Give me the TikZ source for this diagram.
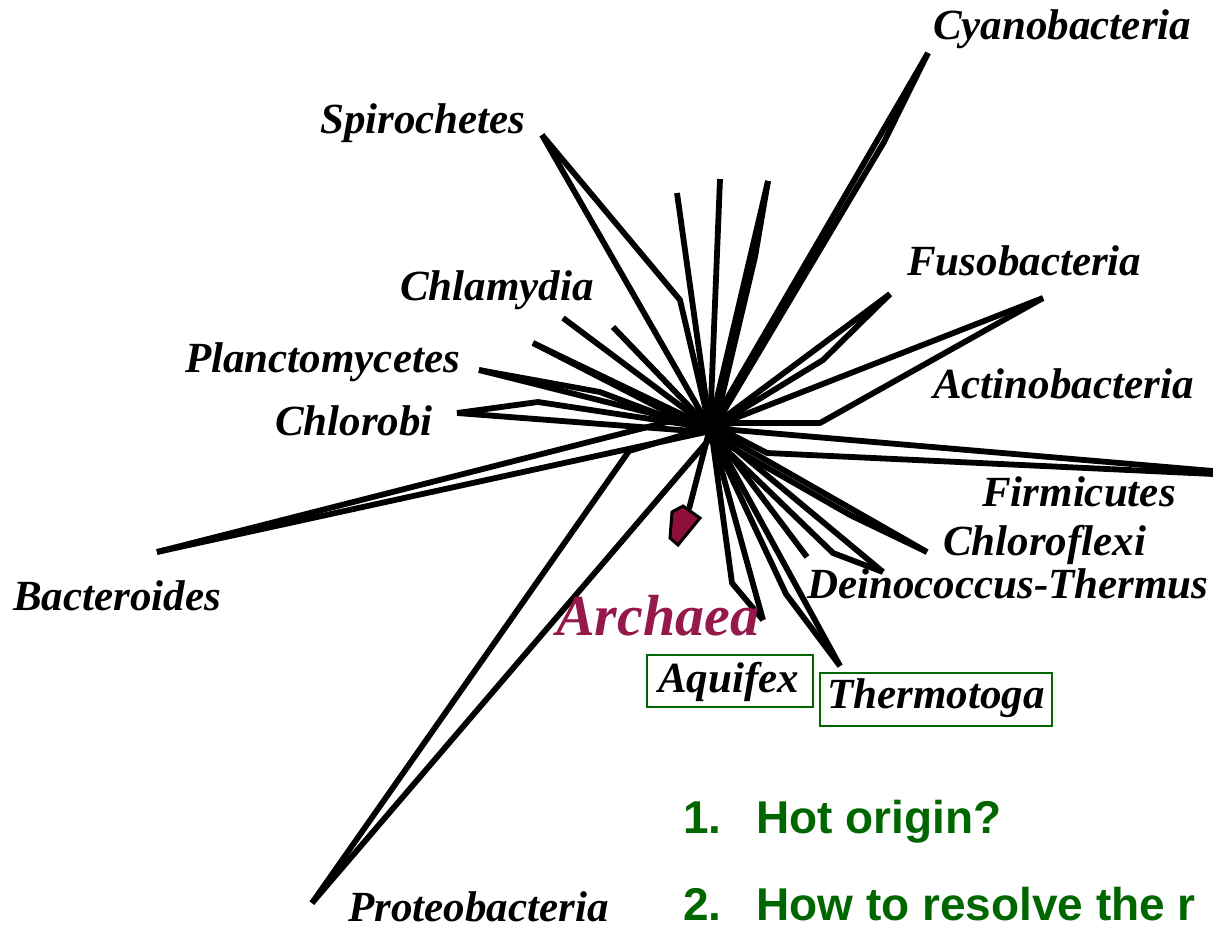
\documentclass[tikz,border=0pt]{standalone}
\usepackage{fontspec}
\setmainfont{Liberation Serif}
\newfontfamily\sansbold{Liberation Sans}
\definecolor{slidegreen}{RGB}{0,102,0}
\definecolor{archred}{RGB}{150,25,75}
\definecolor{archfill}{RGB}{140,15,60}
\begin{document}
\begin{tikzpicture}[x=1pt,y=-1pt,
  branch/.style={line width=5.8pt,line join=round,line cap=butt},
  taxon/.style={anchor=base west,inner sep=0pt,font=\fontsize{43}{46}\selectfont\bfseries\itshape},
  boxed/.style={draw=slidegreen,line width=1.8pt},
  question/.style={anchor=base west,inner sep=0pt,text=slidegreen,font=\sansbold\fontsize{46}{50}\selectfont\bfseries}]
\useasboundingbox (0,0) rectangle (1213,929);
% centre
\coordinate (C) at (710,428);
\coordinate (Ca) at (706,432);
\coordinate (Cb) at (715,426);
\coordinate (Cc) at (712,436);
% tips
\coordinate (tSp) at (542,135);
\coordinate (kSp) at (680,300);
\coordinate (tT1) at (677,193);
\coordinate (tT2) at (720,179);
\coordinate (tT3) at (768,181);
\coordinate (kT3) at (755,257);
\coordinate (tCy) at (928,53);
\coordinate (kCy) at (884,142);
\coordinate (tFu) at (890,294);
\coordinate (kFu) at (823,360);
\coordinate (tAc) at (1043,298);
\coordinate (kAc) at (820,423);
\coordinate (kAc2) at (735,423);
\coordinate (tFi) at (1213,471);
\coordinate (tFi2) at (1213,474);
\coordinate (kFi) at (767,453);
\coordinate (tCh) at (927,552);
\coordinate (kCh) at (850,515);
\coordinate (tDe) at (883,572);
\coordinate (kDe) at (833,553);
\coordinate (tSh) at (807,557);
\coordinate (tTh) at (840,666);
\coordinate (kTh) at (786,594);
\coordinate (tAq) at (763,620);
\coordinate (kAq) at (732,583);
\coordinate (tAr) at (689,509);
\coordinate (tCl1) at (563,318);
\coordinate (tCl2) at (613,327);
\coordinate (tPl1) at (533,343);
\coordinate (tPl2) at (479,370);
\coordinate (kPl2) at (600,392);
\coordinate (tCb) at (457,413);
\coordinate (kCb) at (538,402);
\coordinate (tBa) at (157,552);
\coordinate (kBa) at (683,418);
\coordinate (tPr) at (312,903);
\coordinate (kPr) at (629,451);
\coordinate (kPr2) at (700,430);
% branches
\draw[branch] (tSp) -- (kSp) -- (C);
\draw[branch] (tSp) -- (C);
\draw[branch] (tT1) -- (C);
\draw[branch] (tT2) -- (C);
\draw[branch] (tT3) -- (C);
\draw[branch] (tT3) -- (kT3) -- (Cb);
\draw[branch] (tCy) -- (C);
\draw[branch] (tCy) -- (kCy) -- (Cb);
\draw[branch] (tFu) -- (C);
\draw[branch] (tFu) -- (kFu) -- (Cb);
\draw[branch] (tAc) -- (C);
\draw[branch] (tAc) -- (kAc) -- (kAc2) -- (Cb);
\draw[branch] (C) -- (tFi);
\draw[branch] (Cb) -- (kFi) -- (tFi2);
\draw[branch] (C) -- (tCh);
\draw[branch] (Cc) -- (kCh) -- (tCh);
\draw[branch] (C) -- (tDe);
\draw[branch] (Cc) -- (kDe) -- (tDe);
\draw[branch] (C) -- (tSh);
\draw[branch] (C) -- (tTh);
\draw[branch] (Cc) -- (kTh) -- (tTh);
\draw[branch] (C) -- (tAq);
\draw[branch] (Cc) -- (kAq) -- (tAq);
\draw[branch] (C) -- (tAr);
\draw[branch] (tCl1) -- (C);
\draw[branch] (tCl2) -- (C);
\draw[branch] (tPl1) -- (C);
\draw[branch] (tPl1) -- (Ca);
\draw[branch] (tPl2) -- (C);
\draw[branch] (tPl2) -- (kPl2) -- (Ca);
\draw[branch] (tCb) -- (kCb) -- (C);
\draw[branch] (tCb) -- (Ca);
\draw[branch] (tBa) -- (kBa);
\draw[branch] (tBa) -- (Ca);
\draw[branch] (tPr) -- (kPr) -- (kPr2);
\draw[branch] (tPr) -- (Cc);
% Archaea arrow head
\draw[line width=3pt,line join=miter,fill=archfill]
  (672,512) -- (683,506) -- (700,518) -- (678,545) -- (670,538) -- cycle;
% labels
\node[taxon] (lCy) at (933,39) {Cyanobacteria};
\node[taxon] (lSp) at (320,133) {Spirochetes};
\node[taxon] (lFu) at (907,275) {Fusobacteria};
\node[taxon] (lCl) at (400,300) {Chlamydia};
\node[taxon] (lPl) at (185,372) {Planctomycetes};
\node[taxon] (lAc) at (933,398) {Actinobacteria};
\node[taxon] (lCb) at (275,435) {Chlorobi};
\node[taxon] (lFi) at (982,506) {Firmicutes};
\node[taxon] (lCh) at (943,555) {Chloroflexi};
\node[taxon] (lDe) at (807,598) {Deinococcus-Thermus};
\node[taxon] (lBa) at (13,610) {Bacteroides};
\node[anchor=base west,inner sep=0pt,text=archred,font=\fontsize{58}{62}\selectfont\bfseries\itshape] (lAr) at (556,635) {Archaea};
\node[taxon] (lAq) at (658,692) {Aquifex};
\node[taxon] (lTh) at (827,708) {Thermotoga};
\draw[boxed] (647,655) rectangle (813,707);
\draw[boxed] (820,673) rectangle (1052,726);
\node[taxon] (lPr) at (348,921) {Proteobacteria};
\node[question] (q1n) at (683,833) {1.};
\node[question] (q1) at (756,833) {Hot origin?};
\node[question] (q2n) at (683,920) {2.};
\node[question] (q2) at (756,920) {How to resolve the r};
\end{tikzpicture}
\end{document}
